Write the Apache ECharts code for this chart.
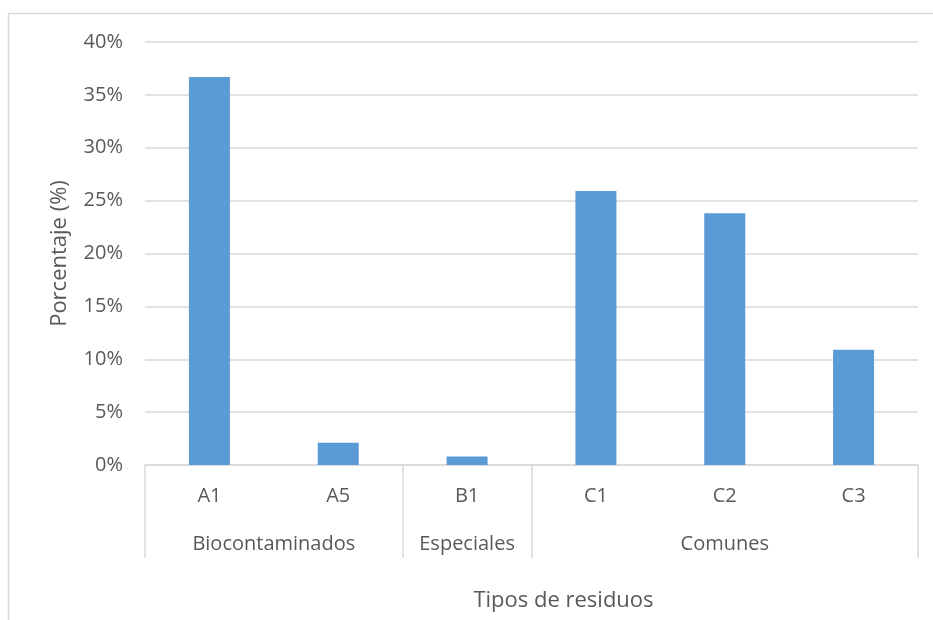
<!DOCTYPE html>
<html>
<head>
<meta charset="utf-8">
<script src="https://cdn.jsdelivr.net/npm/echarts@6/dist/echarts.min.js"></script>
<style>
  html, body { margin: 0; padding: 0; background: #fff; }
  #graph { width: 933px; height: 620px; }
</style>
</head>
<body>
<div id="graph"></div>
<script>
// bar categories and values (percent)
var categories = ['A1', 'A5', 'B1', 'C1', 'C2', 'C3'];
var values = [36.7, 2.1, 0.8, 25.9, 23.8, 10.9];

// category groups and how many bars each spans
var groups = ['Biocontaminados', 'Especiales', 'Comunes'];
var groupSpans = [2, 1, 3];

var yTicks = [0, 5, 10, 15, 20, 25, 30, 35, 40];

// group boundaries and centers along the category axis
var bounds = [0];
var mids = [];
groupSpans.forEach(function (n, i) {
  mids.push(bounds[i] + n / 2);
  bounds.push(bounds[i] + n);
});

var txt = '#595959';
var gridCol = '#d9d9d9';
var font = 'Open Sans';

var dom = document.getElementById('graph');
var myChart = echarts.init(dom);

var option = {
  animation: false,
  textStyle: { fontFamily: font },
  grid: { left: 145, right: 15, top: 42, bottom: 155 },
  graphic: [{
    type: 'rect',
    shape: { x: 8.5, y: 13.5, width: 1000, height: 1000 },
    style: { fill: 'none', stroke: gridCol, lineWidth: 1.5 },
    silent: true
  }],
  xAxis: [{
    type: 'category',
    data: categories,
    axisLine: { lineStyle: { color: gridCol, width: 1.5 } },
    axisTick: { show: false },
    axisLabel: { color: txt, fontSize: 20, margin: 21, fontFamily: font },
    name: 'Tipos de residuos',
    nameLocation: 'middle',
    nameGap: 125,
    nameTextStyle: { color: txt, fontSize: 22, fontFamily: font, padding: [0, 0, 0, 64] }
  }, {
    type: 'value',
    position: 'bottom',
    min: 0,
    max: categories.length,
    axisLine: { show: false },
    splitLine: { show: false },
    axisTick: {
      show: true,
      customValues: bounds,
      length: 93,
      lineStyle: { color: gridCol, width: 1.5 }
    },
    axisLabel: {
      customValues: mids,
      color: txt,
      fontSize: 20,
      margin: 69,
      fontFamily: font,
      formatter: function (v) {
        var i = mids.indexOf(v);
        return i >= 0 ? groups[i] : '';
      }
    }
  }],
  yAxis: {
    type: 'value',
    min: yTicks[0],
    max: yTicks[yTicks.length - 1],
    interval: yTicks[1] - yTicks[0],
    axisLine: { show: false },
    axisTick: { show: false },
    splitLine: { lineStyle: { color: gridCol, width: 1.5 } },
    axisLabel: {
      color: txt, fontSize: 20, margin: 22, fontFamily: font,
      formatter: '{value}%'
    },
    name: 'Porcentaje (%)',
    nameLocation: 'middle',
    nameGap: 74,
    nameTextStyle: { color: txt, fontSize: 22, fontFamily: font }
  },
  series: [{
    type: 'bar',
    xAxisIndex: 0,
    data: values,
    barWidth: 41,
    itemStyle: { color: '#5b9bd5' }
  }]
};

myChart.setOption(option, true);
</script>
</body>
</html>
